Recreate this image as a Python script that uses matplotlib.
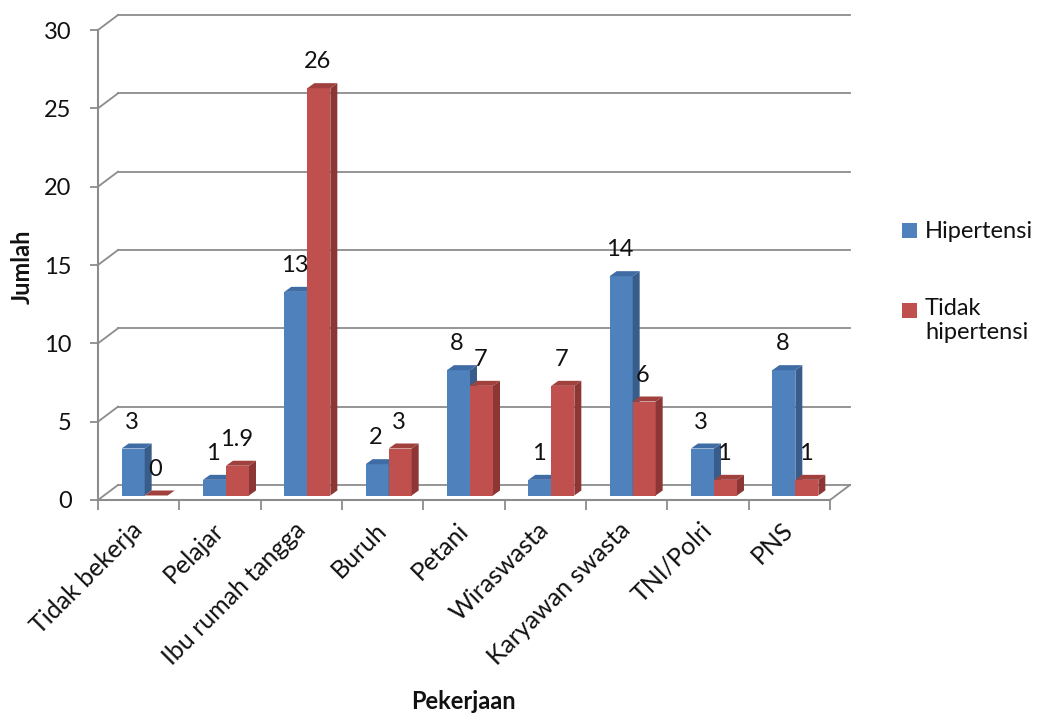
import matplotlib
matplotlib.use('Agg')
import matplotlib.pyplot as plt
from matplotlib.patches import Polygon, Rectangle

plt.rcParams['font.family'] = ['Lato', 'DejaVu Sans']

# data
kategori = ['Tidak bekerja', 'Pelajar', 'Ibu rumah tangga', 'Buruh', 'Petani',
            'Wiraswasta', 'Karyawan swasta', 'TNI/Polri', 'PNS']
hipertensi = [3, 1, 13, 2, 8, 1, 14, 3, 8]
tidak_hipertensi = [0, 1.9, 26, 3, 7, 7, 6, 1, 1]
y_ticks = [0, 5, 10, 15, 20, 25, 30]

W, H = 1038, 715
fs = 17
fig = plt.figure(figsize=(W / 100, H / 100), dpi=100)
ax = fig.add_axes([98 / W, 215 / H, 732 / W, 470 / H])
n = len(kategori)
ax.set_xlim(-0.5, n - 0.5)
ax.set_ylim(0, 30)

# pixels per data unit
ux = 732 / n
uy = 470 / 30

# back wall depth, bar offset and bar depth (in data units)
wx, wy = 20 / ux, 15 / uy
bx, by = 6 / ux, 4.5 / uy
dx, dy = 7 / ux, 5 / uy
w = 23 / ux

grid_c = '#8c8c8c'
for v in y_ticks:
    ax.plot([-0.5 + wx, n - 0.5 + wx], [v + wy, v + wy], color=grid_c, lw=1.3,
            clip_on=False, zorder=1)
    ax.plot([-0.5, -0.5 + wx], [v, v + wy], color=grid_c, lw=1.3, clip_on=False, zorder=1)
# floor right edge
ax.plot([n - 0.5, n - 0.5 + wx], [0, wy], color=grid_c, lw=1.3, clip_on=False, zorder=1)

series = [
    (hipertensi, -w / 2, '#4f81bd', '#3f6ca4', '#385d8a'),
    (tidak_hipertensi, w / 2, '#c0504d', '#a0413e', '#8c3735'),
]

for i in range(n):
    for vals, shift, c_front, c_top, c_side in series:
        v = vals[i]
        xc = i + shift + bx
        x0, x1 = xc - w / 2, xc + w / 2
        top = v + by
        ax.bar(xc, v, width=w, bottom=by, color=c_front, zorder=3, linewidth=0)
        ax.add_patch(Polygon([(x1, by), (x1 + dx, by + dy), (x1 + dx, top + dy), (x1, top)],
                             closed=True, facecolor=c_side, edgecolor='none', zorder=3))
        ax.add_patch(Polygon([(x0, top), (x0 + dx, top + dy), (x1 + dx, top + dy), (x1, top)],
                             closed=True, facecolor=c_top, edgecolor='none', zorder=3))
        ax.annotate(f'{v:g}', (xc, top), xytext=(-1, 19), textcoords='offset points',
                    ha='center', va='center', fontsize=fs, color='#111111', zorder=4)

# axes styling
for s in ['top', 'right']:
    ax.spines[s].set_visible(False)
for s in ['left', 'bottom']:
    ax.spines[s].set_color(grid_c)
    ax.spines[s].set_linewidth(1.5)
    ax.spines[s].set_zorder(2)

ax.set_yticks(y_ticks)
ax.tick_params(axis='y', length=6, width=1.3, color=grid_c, pad=13, labelsize=fs,
               labelcolor='#111111')
ax.set_xticks(range(n))
ax.set_xticklabels(kategori, rotation=45, ha='right', va='center', rotation_mode='anchor',
                   fontsize=fs + 1, color='#111111')
ax.tick_params(axis='x', which='major', length=0, pad=19)
ax.set_xticks([i - 0.5 for i in range(n + 1)], minor=True)
ax.tick_params(axis='x', which='minor', length=7, width=1.3, color=grid_c)

fig.text(22 / W, 1 - 267 / H, 'Jumlah', rotation=90, ha='center', va='center',
         fontsize=fs, fontweight='bold', color='#111111')
fig.text(463 / W, 2 / H, 'Pekerjaan', ha='center', va='bottom',
         fontsize=fs, fontweight='bold', color='#111111')

# legend
fig.add_artist(Rectangle((902 / W, 1 - 238 / H), 15 / W, 15 / H, facecolor='#4f81bd',
                         edgecolor='none', transform=fig.transFigure))
fig.text(925 / W, 1 - 231 / H, 'Hipertensi', ha='left', va='center', fontsize=fs,
         color='#111111')
fig.add_artist(Rectangle((902 / W, 1 - 318 / H), 15 / W, 15 / H, facecolor='#c0504d',
                         edgecolor='none', transform=fig.transFigure))
fig.text(925 / W, 1 - 298 / H, 'Tidak\nhipertensi', ha='left', va='top', fontsize=fs,
         color='#111111', linespacing=1.2, transform=fig.transFigure)

fig.savefig('out.png', dpi=100)
